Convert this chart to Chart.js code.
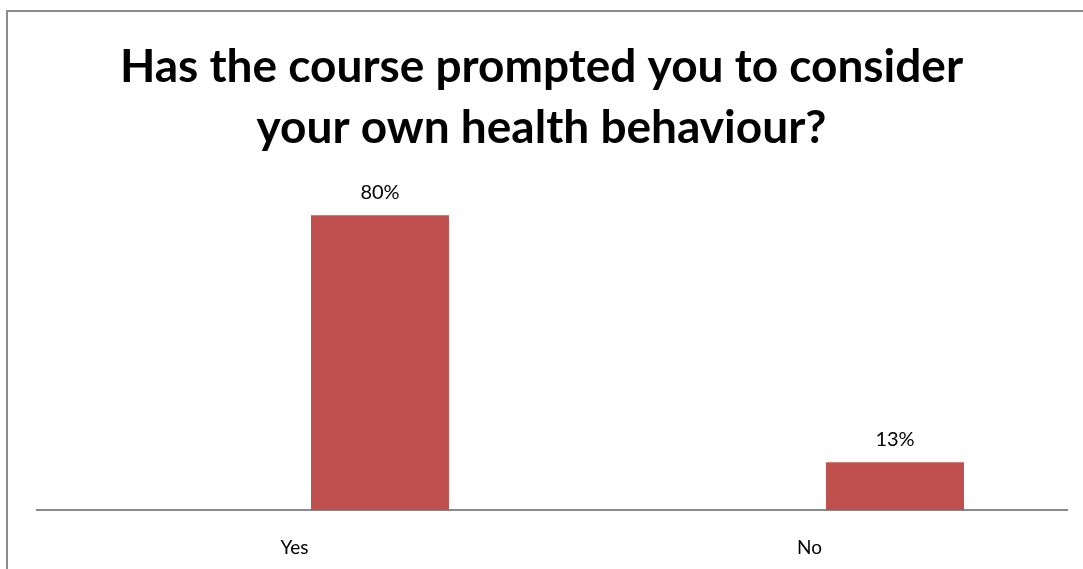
<!DOCTYPE html>
<html>
<head>
<meta charset="utf-8">
<script src="https://cdn.jsdelivr.net/npm/chart.js"></script>
<style>
  html, body { margin: 0; padding: 0; background: #fff; }
  canvas { display: block; }
</style>
</head>
<body>
<canvas id="healthChart" width="1083" height="569"></canvas>
<script>
  // chart data
  const answers = ["Yes", "No"];
  const blankSeries = [null, null]; // empty series in the original sheet
  const percentages = [80, 13];
  const titleLines = ["Has the course prompted you to consider", "your own health behaviour?"];

  const FONT = "Lato, 'Open Sans', sans-serif";

  // frame round the chart (only left and top edges are visible)
  const framePlugin = {
    id: "frame",
    beforeDraw(chart) {
      const ctx = chart.ctx;
      ctx.save();
      ctx.strokeStyle = "#8c8c8c";
      ctx.lineWidth = 2;
      ctx.beginPath();
      ctx.moveTo(7, chart.height);
      ctx.lineTo(7, 11);
      ctx.lineTo(chart.width, 11);
      ctx.stroke();
      ctx.restore();
    }
  };

  // value labels above the bars
  const valueLabels = {
    id: "valueLabels",
    afterDatasetsDraw(chart) {
      const ctx = chart.ctx;
      const meta = chart.getDatasetMeta(1);
      ctx.save();
      ctx.font = "20px " + FONT;
      ctx.fillStyle = "#000";
      ctx.textAlign = "center";
      ctx.textBaseline = "middle";
      meta.data.forEach((bar, i) => {
        ctx.fillText(percentages[i] + "%", bar.x, bar.y - 23);
      });
      ctx.restore();
    }
  };

  // invisible side axes, only used to reserve space so the title stays centred on the page
  const hiddenAxis = (pos, width) => ({
    position: pos,
    display: true,
    min: 0,
    max: 100,
    ticks: { display: false },
    grid: { display: false, drawTicks: false },
    border: { display: false },
    afterFit(scale) { scale.width = width; }
  });

  const ctx = document.getElementById("healthChart").getContext("2d");
  new Chart(ctx, {
    type: "bar",
    data: {
      labels: answers,
      datasets: [
        {
          label: "",
          data: blankSeries,
          backgroundColor: "#4f81bd"
        },
        {
          label: "Percentage",
          data: percentages,
          backgroundColor: "#c0504d",
          borderWidth: 0
        }
      ]
    },
    options: {
      responsive: false,
      animation: false,
      categoryPercentage: 0.664,
      barPercentage: 0.807,
      layout: {
        padding: { left: 0, right: 0, top: 0, bottom: -16 }
      },
      plugins: {
        legend: { display: false },
        tooltip: { enabled: false },
        title: {
          display: true,
          text: titleLines,
          color: "#000",
          font: { family: FONT, size: 46, weight: "bold", lineHeight: 1.32 },
          padding: { top: 37, bottom: -17 }
        }
      },
      scales: {
        x: {
          grid: { display: false, drawTicks: false },
          border: { display: true, color: "#8a8a8a", width: 2 },
          ticks: {
            color: "#000",
            padding: 26,
            font: { family: FONT, size: 19 }
          }
        },
        y: hiddenAxis("left", 37),
        yRight: hiddenAxis("right", 16)
      }
    },
    plugins: [framePlugin, valueLabels]
  });
</script>
</body>
</html>
